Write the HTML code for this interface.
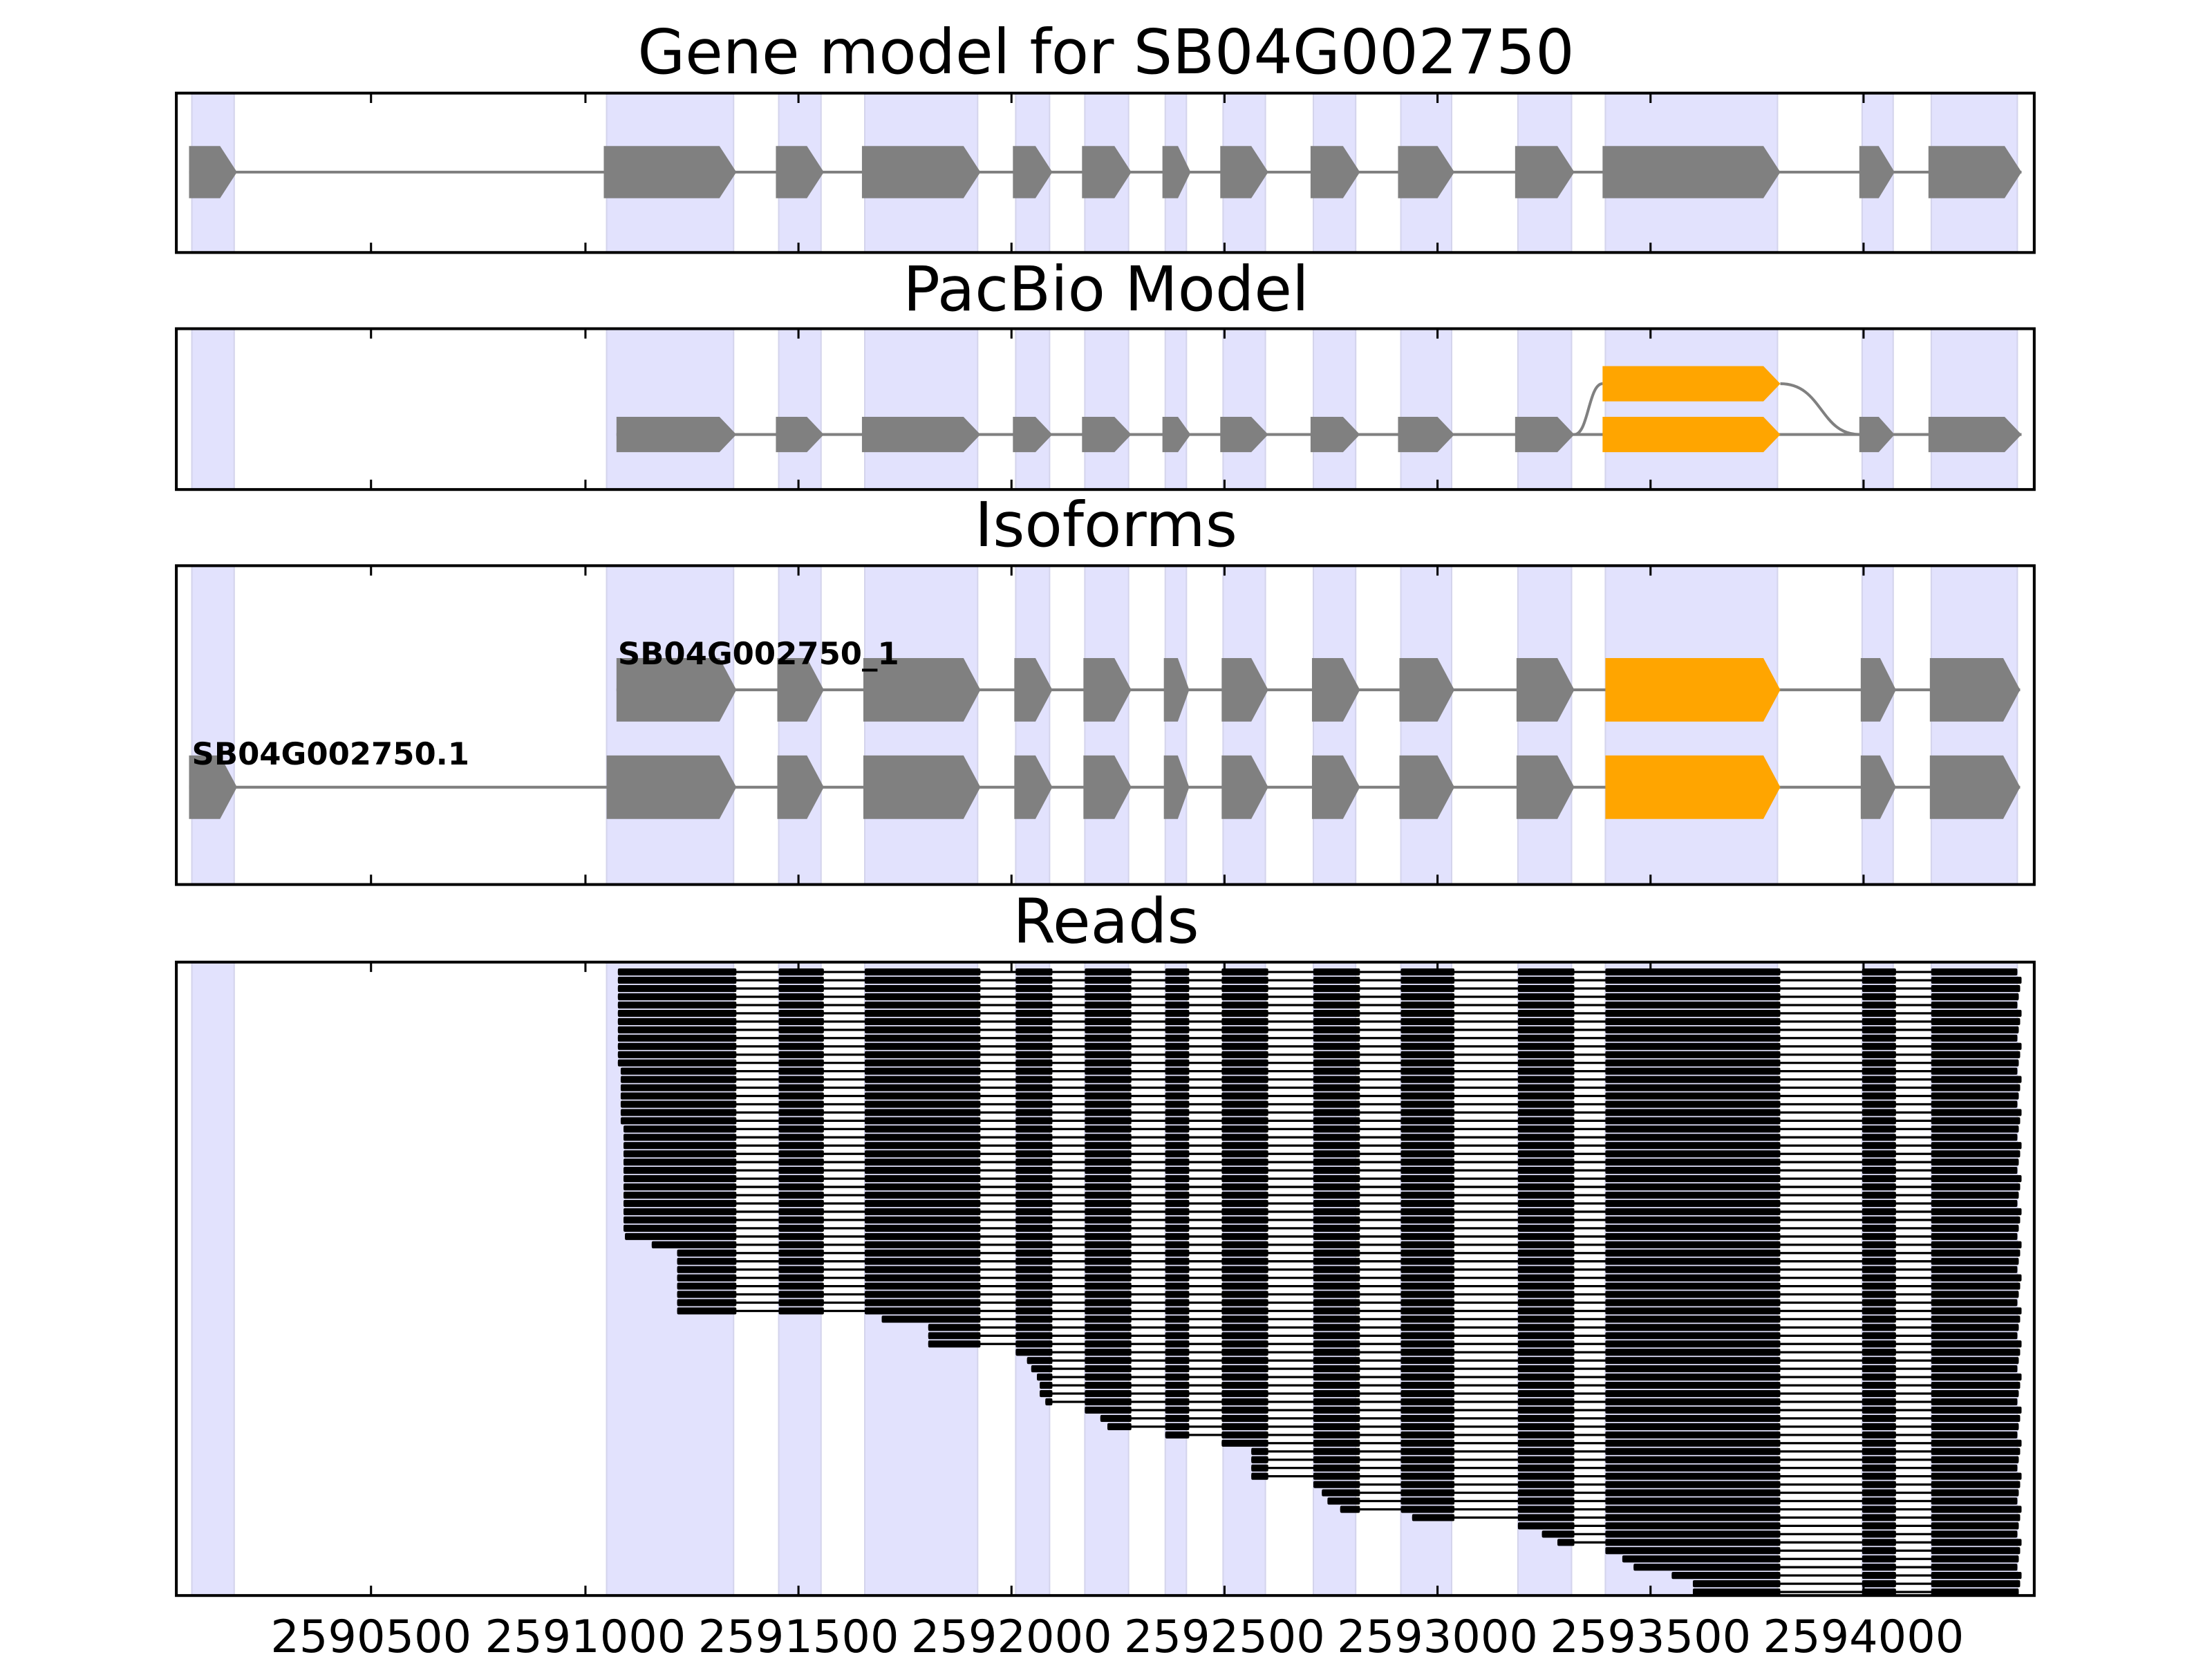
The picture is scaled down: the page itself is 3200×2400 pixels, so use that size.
<!DOCTYPE html>
<html><head><meta charset="utf-8"><style>
html,body{margin:0;padding:0;background:#fff}
svg{display:block}
text{font-family:"DejaVu Sans","Liberation Sans",sans-serif}
</style></head><body>
<svg id="s" xmlns="http://www.w3.org/2000/svg" width="3200" height="2400" viewBox="0 0 1568 1176">
<rect width="1568" height="1176" fill="#fff"/>
<g id="shade"></g>
<g id="content"></g>
<g id="frames"></g>
<text x="784" y="52" font-size="43.5" text-anchor="middle">Gene model for SB04G002750</text>
<text x="784" y="220" font-size="43.5" text-anchor="middle">PacBio Model</text>
<text x="784" y="387" font-size="43.5" text-anchor="middle">Isoforms</text>
<text x="784" y="668" font-size="43.5" text-anchor="middle">Reads</text>
<text x="438" y="471" font-size="22" font-weight="bold">SB04G002750_1</text>
<text x="136" y="542" font-size="22" font-weight="bold">SB04G002750.1</text>
<g font-size="32" text-anchor="middle">
<text x="263" y="1171">2590500</text><text x="415" y="1171">2591000</text><text x="566" y="1171">2591500</text><text x="717" y="1171">2592000</text><text x="868" y="1171">2592500</text><text x="1019" y="1171">2593000</text><text x="1170" y="1171">2593500</text><text x="1321" y="1171">2594000</text>
</g>
</svg>
<script>
var NS="http://www.w3.org/2000/svg";
function el(p,t,a){var e=document.createElementNS(NS,t);for(var k in a)e.setAttribute(k,a[k]);document.getElementById(p).appendChild(e);return e;}
var panels=[[66,179],[233,347],[401,627],[682,1131]];
var X0=125,X1=1442;
var shades=[[136,166],[430,520],[552,582],[613,693],[720,744],[769,800],[826,841],[867,897],[931,961],[993,1029],[1076,1114],[1138,1260],[1320,1342],[1369,1430]];
panels.forEach(function(p){shades.forEach(function(s){el("shade","rect",{x:s[0],y:p[0],width:s[1]-s[0],height:p[1]-p[0],fill:"#e2e2fd",stroke:"#d4d4ec","stroke-width":1});});});
var ticks=[263,415,566,717,868,1019,1170,1321];
panels.forEach(function(p){
 el("frames","rect",{x:X0,y:p[0],width:X1-X0,height:p[1]-p[0],fill:"none",stroke:"#000","stroke-width":2});
 ticks.forEach(function(t){el("frames","line",{x1:t,x2:t,y1:p[0],y2:p[0]+7,stroke:"#000","stroke-width":1.5});el("frames","line",{x1:t,x2:t,y1:p[1],y2:p[1]-7,stroke:"#000","stroke-width":1.5});});
});
function arrow(x0,x1,cy,h,col){var t=Math.min(12,(x1-x0)*0.45);var a=cy-h/2,b=cy+h/2;
 el("content","polygon",{points:x0+","+a+" "+(x1-t)+","+a+" "+x1+","+cy+" "+(x1-t)+","+b+" "+x0+","+b,fill:col});}
function line(x0,x1,y){el("content","line",{x1:x0,x2:x1,y1:y,y2:y,stroke:"#808080","stroke-width":2});}
var G="#808080",O="#ffa500";
var ex=[[428,522],[550,584],[611,695],[718,746],[767,802],[824,844],[865,899],[929,964],[991,1031],[1074,1116],[1136,1262],[1318,1343],[1367,1433]];
line(134,1433,122);arrow(134,168,122,37,G);ex.forEach(function(e){arrow(e[0],e[1],122,37,G);});
line(437,1433,308);
el("content","path",{d:"M1116,308 C1126,308 1126,272 1136,272 M1262,272 C1292,272 1290,308 1318,308",fill:"none",stroke:G,"stroke-width":2});
ex.forEach(function(e,i){var x0=i==0?437:e[0];arrow(x0,e[1],308,25,i==10?O:G);});
arrow(1136,1262,272,25,O);
var ex2=[[430,522],[551,584],[612,695],[719,746],[768,802],[825,843],[866,899],[930,964],[992,1031],[1075,1116],[1138,1262],[1319,1344],[1368,1432]];
line(437,1432,489);line(134,1432,558);
ex2.forEach(function(e,i){var x0=i==0?437:e[0];arrow(x0,e[1],489,45,i==10?O:G);});
arrow(134,168,558,45,G);
ex2.forEach(function(e,i){arrow(e[0],e[1],558,45,i==10?O:G);});
var rb=[[0,522],[552,584],[613,695],[720,746],[769,802],[826,843],[866,899],[931,964],[993,1031],[1076,1116],[1138,1262],[1320,1344],[1369,1432]];
var keys=[[686,438],[760,440],[800,442],[875,443],[880,462],[886,480],[928,480],[934,625],[940,658],[952,658],[960,720],[966,728],[972,731],[978,735],[984,737],[990,741],[996,769],[1002,780],[1008,785],[1014,826],[1020,866],[1026,887],[1044,887],[1050,931],[1056,937],[1062,941],[1068,950],[1074,1001],[1080,1076],[1086,1093],[1092,1104],[1098,1138],[1104,1150],[1110,1158],[1116,1185],[1122,1200],[1130,1200]];
function startAt(y){for(var i=keys.length-1;i>=0;i--){if(y>=keys[i][0]-2){return keys[i][1];}}return 438;}
var N=76,pitch=5.86;
for(var r=0;r<N;r++){var y=689+r*pitch;var s=startAt(y);var end=1430+((r*7)%4);
 el("content","line",{x1:s,x2:end,y1:y,y2:y,stroke:"#000","stroke-width":1.6});
 rb.forEach(function(b,i){var a=Math.max(b[0],s);var e=i==12?end:b[1];if(e>a)el("content","rect",{x:a,y:y-2.5,width:e-a,height:5,fill:"#000",rx:1});});
}
</script>
</body></html>
